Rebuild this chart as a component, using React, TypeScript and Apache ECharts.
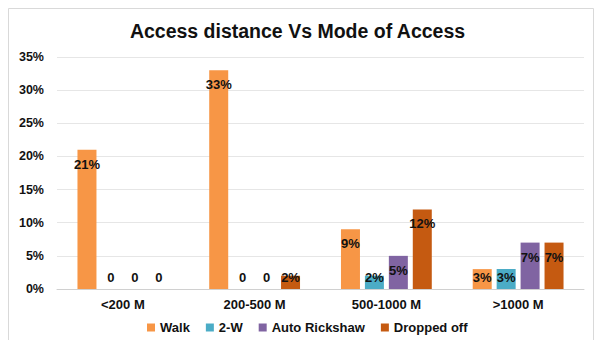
import React, { useEffect, useRef } from "react";
import * as echarts from "echarts";

const categories = ["<200 M", "200-500 M", "500-1000 M", ">1000 M"];
const seriesNames = ["Walk", "2-W", "Auto Rickshaw", "Dropped off"];
const walk = [21, 33, 9, 3];
const twoW = [0, 0, 2, 3];
const autoRickshaw = [0, 0, 5, 7];
const droppedOff = [0, 2, 12, 7];
const colors = ["#F79646", "#4BACC6", "#8064A2", "#C55A11"];

const makeData = (vals: number[]) =>
  vals.map((v) => ({
    value: v,
    label:
      v >= 5
        ? { position: "insideTop", distance: 8 }
        : { position: "insideBottom", distance: 5 },
  }));

export default function App() {
  const ref = useRef<HTMLDivElement>(null);
  useEffect(() => {
    if (!ref.current) return;
    const chart = echarts.init(ref.current, null, { renderer: "svg" });
    const all = [walk, twoW, autoRickshaw, droppedOff];
    chart.setOption({
      animation: false,
      backgroundColor: "#ffffff",
      title: {
        text: "Access distance Vs Mode of Access",
        left: "center",
        top: 16,
        textStyle: {
          fontFamily: "Liberation Sans, Arial, sans-serif",
          fontWeight: "bold",
          fontSize: 19.5,
          color: "#111111",
        },
      },
      grid: { left: 57, right: 11, top: 57, bottom: 51 },
      xAxis: {
        type: "category",
        data: categories,
        axisLine: { lineStyle: { color: "#d0d0d0" } },
        axisTick: { show: false },
        axisLabel: {
          margin: 9,
          fontFamily: "Liberation Sans, Arial, sans-serif",
          fontWeight: "bold",
          fontSize: 13,
          color: "#111111",
        },
      },
      yAxis: {
        type: "value",
        min: 0,
        max: 35,
        interval: 5,
        axisLine: { show: false },
        axisTick: { show: false },
        splitLine: { lineStyle: { color: "#e6e6e6" } },
        axisLabel: {
          formatter: "{value}%",
          margin: 13,
          fontFamily: "Liberation Sans, Arial, sans-serif",
          fontWeight: "bold",
          fontSize: 12.5,
          color: "#111111",
        },
      },
      legend: {
        bottom: 1,
        left: 142,
        icon: "rect",
        itemWidth: 8,
        itemHeight: 8,
        itemGap: 16,
        textStyle: {
          fontFamily: "Liberation Sans, Arial, sans-serif",
          fontWeight: "bold",
          fontSize: 13,
          color: "#111111",
        },
        data: seriesNames,
      },
      series: seriesNames.map((name, i) => ({
        name,
        type: "bar",
        barWidth: 19,
        barGap: "26%",
        itemStyle: { color: colors[i] },
        label: {
          show: true,
          formatter: (p: any) => (p.value === 0 ? "0" : p.value + "%"),
          fontFamily: "Liberation Sans, Arial, sans-serif",
          fontWeight: "bold",
          fontSize: 13,
          color: "#111111",
        },
        data: makeData(all[i]),
      })),
      graphic: [
        {
          type: "rect",
          shape: { x: 8.5, y: 8.5, width: 585, height: 340 },
          style: { fill: "none", stroke: "#d9d9d9", lineWidth: 1 },
          silent: true,
        },
      ],
    });
    return () => chart.dispose();
  }, []);
  return (
    <div
      ref={ref}
      style={{ position: "absolute", left: 0, top: 0, width: 595, height: 340 }}
    />
  );
}
